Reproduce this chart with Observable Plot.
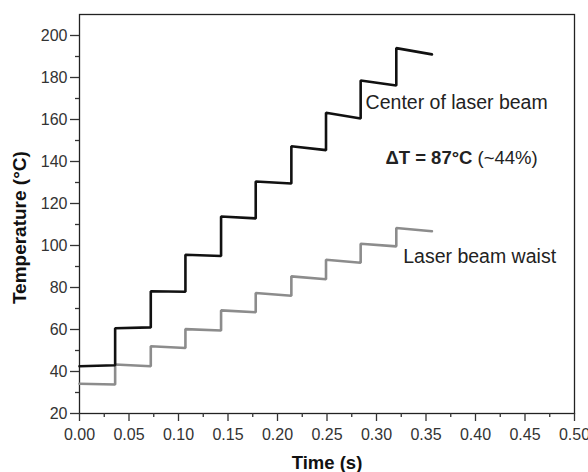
<!DOCTYPE html>
<html>
<head>
<meta charset="utf-8">
<script src="https://cdn.jsdelivr.net/npm/d3@7"></script>
<script src="https://cdn.jsdelivr.net/npm/@observablehq/plot@0.6"></script>
<style>
  html, body { margin: 0; padding: 0; background: #fff; }
  #chart svg { display: block; }
</style>
</head>
<body>
<div id="chart"></div>
<script>
// Pulse times (s): start of each heating step, last entry is end of record
const stepTimes = [0, 0.036, 0.072, 0.107, 0.143, 0.178, 0.214, 0.249, 0.284, 0.320, 0.356];
// Center of laser beam: temperature at start / end of each step (°C)
const centerStart = [42.5, 60.6, 78.2, 95.6, 113.8, 130.5, 147.3, 163.2, 178.6, 194.0];
const centerEnd   = [43.0, 61.0, 78.0, 95.0, 112.9, 129.5, 145.4, 160.5, 176.2, 191.0];
// Laser beam waist
const waistStart  = [34.2, 43.3, 52.0, 60.2, 69.1, 77.4, 85.3, 93.2, 100.8, 108.3];
const waistEnd    = [33.8, 42.5, 51.2, 59.5, 68.2, 76.1, 83.9, 91.8, 99.6, 106.8];

const xTicks = [0, 0.05, 0.10, 0.15, 0.20, 0.25, 0.30, 0.35, 0.40, 0.45, 0.50];
const xMinor = [0.025, 0.075, 0.125, 0.175, 0.225, 0.275, 0.325, 0.375, 0.425, 0.475];
const yTicks = [20, 40, 60, 80, 100, 120, 140, 160, 180, 200];
const yMinor = [30, 50, 70, 90, 110, 130, 150, 170, 190];

const labels = [
  {t: 0.289, T: 165.0, text: "Center of laser beam"},
  {t: 0.327, T: 91.8, text: "Laser beam waist"}
];
const deltaLabel = {t: 0.309, T: 139.0, text: "ΔT = 87°C (~44%)"};
const xTitle = {t: 0.25, T: -6.5, text: "Time (s)"};
const yTitle = {t: -0.0605, T: 108.5, text: "Temperature (°C)"};

function steps(starts, ends) {
  const pts = [];
  starts.forEach((s, i) => {
    pts.push({t: stepTimes[i], T: s});
    pts.push({t: stepTimes[i + 1], T: ends[i]});
  });
  return pts;
}
const center = steps(centerStart, centerEnd);
const waist = steps(waistStart, waistEnd);

const font = "'Liberation Sans', Arial, Helvetica, sans-serif";

const chart = Plot.plot({
  width: 588,
  height: 472,
  marginLeft: 79,
  marginRight: 14,
  marginTop: 14,
  marginBottom: 59,
  style: {fontFamily: font, fontSize: "16px", color: "#333", background: "#fff"},
  x: {domain: [0, 0.5]},
  y: {domain: [20, 210]},
  marks: [
    Plot.frame({stroke: "#222", strokeWidth: 1.3}),
    Plot.axisX({ticks: xTicks, tickSize: 8, tickPadding: 7, tickFormat: d3.format(".2f"),
      fontSize: 16, fill: "#333", stroke: "#333", strokeWidth: 1.3, label: null}),
    Plot.axisX({ticks: xMinor, tickSize: 4, text: null, stroke: "#333", strokeWidth: 1.3, label: null}),
    Plot.axisY({ticks: yTicks, tickSize: 9, tickPadding: 3, tickFormat: d3.format("d"),
      fontSize: 16, fill: "#333", stroke: "#333", strokeWidth: 1.3, label: null}),
    Plot.axisY({ticks: yMinor, tickSize: 4, text: null, stroke: "#333", strokeWidth: 1.3, label: null}),
    Plot.line(waist, {x: "t", y: "T", stroke: "#8c8c8c", strokeWidth: 2.6, strokeLinejoin: "miter"}),
    Plot.line(center, {x: "t", y: "T", stroke: "#111", strokeWidth: 2.6, strokeLinejoin: "miter"}),
    Plot.text(labels, {x: "t", y: "T", text: "text", textAnchor: "start", lineAnchor: "bottom",
      fontSize: 19.5, fill: "#222"}),
    Plot.text([deltaLabel], {x: "t", y: "T", text: "text", textAnchor: "start", lineAnchor: "bottom",
      fontSize: 18.5, fill: "#222", className: "delta"}),
    Plot.text([xTitle], {x: "t", y: "T", text: "text", lineAnchor: "bottom", clip: false,
      fontSize: 18.5, fontWeight: "bold", fill: "#111"}),
    Plot.text([yTitle], {x: "t", y: "T", text: "text", rotate: -90, lineAnchor: "middle", clip: false,
      fontSize: 19, fontWeight: "bold", fill: "#111"})
  ]
});

document.getElementById("chart").appendChild(chart);

// Mixed weight for the ΔT annotation
d3.select(chart).selectAll("g.delta text").each(function () {
  const el = d3.select(this);
  el.text(null);
  el.append("tspan").attr("font-weight", "bold").text("ΔT = 87°C");
  el.append("tspan").text(" (~44%)");
});
</script>
</body>
</html>
